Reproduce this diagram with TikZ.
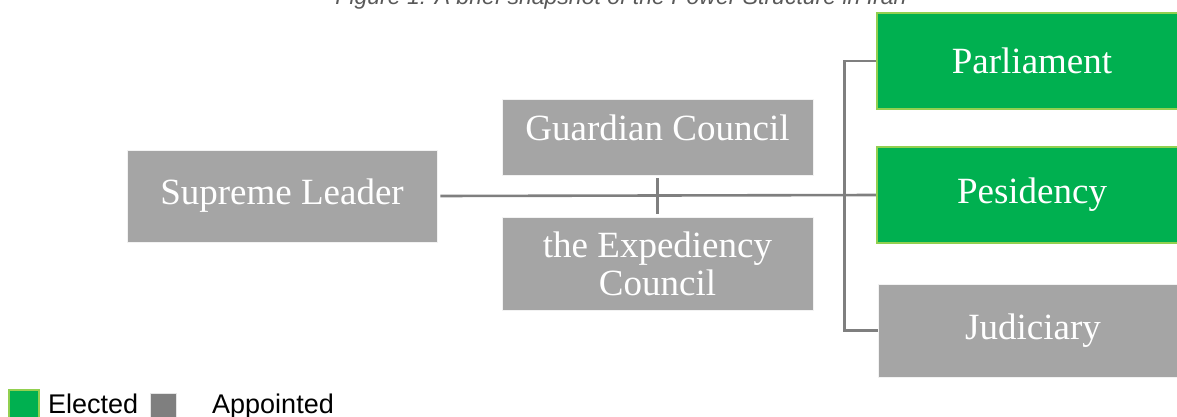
\documentclass[tikz,border=0pt]{standalone}
\usepackage{fontspec}
\setmainfont{Liberation Serif}
\newfontfamily\arialfont{Liberation Sans}
\definecolor{boxgray}{HTML}{A5A5A5}
\definecolor{elecgreen}{HTML}{00B050}
\definecolor{lightgreen}{HTML}{92D050}
\definecolor{linegray}{HTML}{7F7F7F}
\definecolor{capgray}{HTML}{595959}
\tikzset{
  appointed/.style={draw=white!85!boxgray, line width=0.8pt, fill=boxgray, text=white,
    font=\fontsize{37}{38}\selectfont, align=center, inner sep=0pt},
  elected/.style={draw=lightgreen, line width=2.5pt, fill=elecgreen, text=white,
    font=\fontsize{37}{38}\selectfont, align=center, inner sep=0pt},
  link/.style={draw=linegray, line width=2.6pt},
  keytext/.style={font=\arialfont\fontsize{27}{27}\selectfont, anchor=base west, inner sep=0pt}
}
\begin{document}
\begin{tikzpicture}[x=1pt,y=-1pt]
\useasboundingbox (0,0) rectangle (1177,416);

\node[font=\arialfont\itshape\fontsize{23}{23}\selectfont, text=capgray, anchor=base, inner sep=0pt]
  (caption) at (621,4) {Figure 1: A brief snapshot of the Power Structure in Iran};

% left side
\node[appointed, minimum width=310pt, minimum height=92pt] (leader) at (282,196) {Supreme Leader};
\node[appointed, minimum width=311pt, minimum height=76pt, text depth=18pt] (guardian) at (657.5,137) {Guardian Council};
\node[appointed, minimum width=311pt, minimum height=93pt] (expedient) at (657.5,263.5) {the Expediency\\Council};

% right side
\node[elected, minimum width=310pt, minimum height=96pt] (parl) at (1032,61) {Parliament};
\node[elected, minimum width=310pt, minimum height=96pt] (pres) at (1032,195) {Pesidency};
\node[appointed, minimum width=310pt, minimum height=93pt] (judi) at (1033,330.5) {Judiciary};

% connectors
\draw[link, shorten <=3pt] (leader.east) -- (pres.west);
\draw[link, shorten <=3pt, shorten >=3pt] (guardian.south) -- (expedient.north);
\draw[link] (parl.west) -- ++(-31,0) |- (judi.west);

% legend
\node[draw=lightgreen, line width=2pt, fill=elecgreen, minimum size=30pt, inner sep=0pt] (keyelec) at (24,405) {};
\node[keytext] (keyelectext) at (48,413) {Elected};
\node[draw=white!80!linegray, line width=0.8pt, fill=linegray, minimum size=26pt, inner sep=0pt] (keyappt) at (163.5,406) {};
\node[keytext] (keyappttext) at (212,413) {Appointed};
\end{tikzpicture}
\end{document}
